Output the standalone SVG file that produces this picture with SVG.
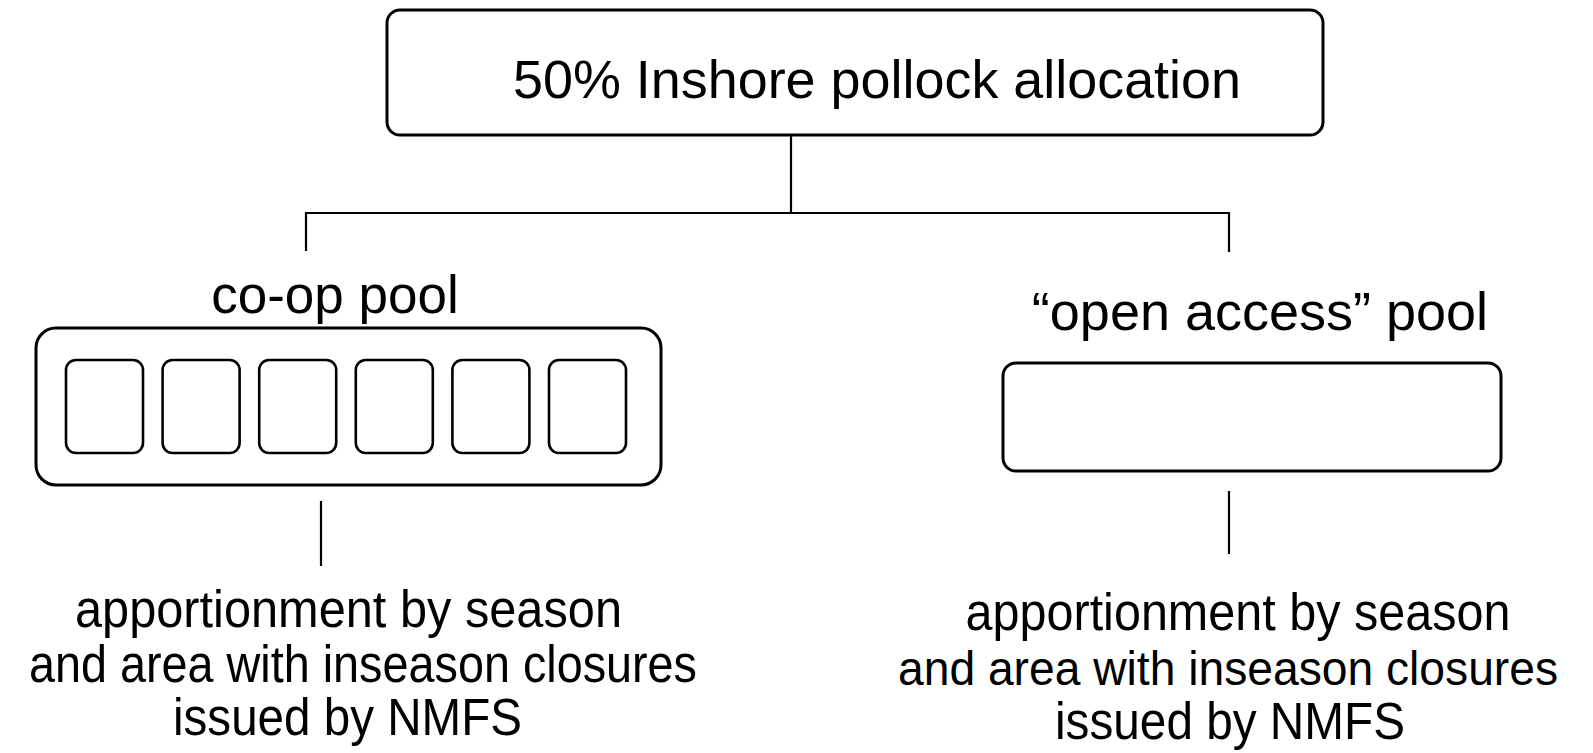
<svg xmlns="http://www.w3.org/2000/svg" width="1593" height="753" viewBox="0 0 1593 753">
  <style>
    .box { fill: none; stroke: #000; stroke-width: 3; }
    .cell { fill: none; stroke: #000; stroke-width: 2.6; }
    .wire { fill: none; stroke: #000; stroke-width: 2.2; }
    .t { font-family: "Liberation Sans", Arial, sans-serif; fill: #000; text-anchor: middle; }
    .title { font-size: 54px; }
    .label { font-size: 53px; }
    .note { font-size: 51px; }
  </style>
  <rect width="1593" height="753" fill="#fff"/>

  <!-- connectors -->
  <g id="connectors">
    <path class="wire" d="M791 135 V213"/>
    <path class="wire" d="M306 251 V213 H1229 V252"/>
    <path class="wire" d="M321 501 V566"/>
    <path class="wire" d="M1229 491 V554"/>
  </g>

  <!-- root allocation -->
  <g id="allocation">
    <rect class="box" x="387" y="10" width="936" height="125" rx="13"/>
    <text class="t title" x="877" y="98" textLength="728" lengthAdjust="spacingAndGlyphs">50% Inshore pollock allocation</text>
  </g>

  <!-- co-op pool with six member cells -->
  <g id="coop-pool">
    <text class="t label" x="335" y="313">co-op pool</text>
    <rect class="box" x="36" y="328" width="625" height="157" rx="20"/>
    <rect class="cell" x="66" y="360" width="77" height="93" rx="10"/>
    <rect class="cell" x="162.6" y="360" width="77" height="93" rx="10"/>
    <rect class="cell" x="259.2" y="360" width="77" height="93" rx="10"/>
    <rect class="cell" x="355.8" y="360" width="77" height="93" rx="10"/>
    <rect class="cell" x="452.4" y="360" width="77" height="93" rx="10"/>
    <rect class="cell" x="549" y="360" width="77" height="93" rx="10"/>
  </g>

  <!-- open access pool -->
  <g id="open-access-pool">
    <text class="t label" x="1260" y="330" style="font-size:54px">“open access” pool</text>
    <rect class="box" x="1003" y="363" width="498" height="108" rx="13"/>
  </g>

  <!-- apportionment notes (narrow face, fitted per line) -->
  <g id="coop-note">
    <text class="t note" x="348.5" y="627" textLength="547" lengthAdjust="spacingAndGlyphs">apportionment by season</text>
    <text class="t note" x="363" y="682" textLength="668" lengthAdjust="spacingAndGlyphs">and area with inseason closures</text>
    <text class="t note" x="347.5" y="735" textLength="349" lengthAdjust="spacingAndGlyphs">issued by NMFS</text>
  </g>
  <g id="open-access-note">
    <text class="t note" x="1238" y="630" textLength="545" lengthAdjust="spacingAndGlyphs">apportionment by season</text>
    <text class="t note" x="1228" y="685" textLength="660" lengthAdjust="spacingAndGlyphs" style="font-size:48px">and area with inseason closures</text>
    <text class="t note" x="1230" y="739" textLength="350" lengthAdjust="spacingAndGlyphs">issued by NMFS</text>
  </g>
</svg>
